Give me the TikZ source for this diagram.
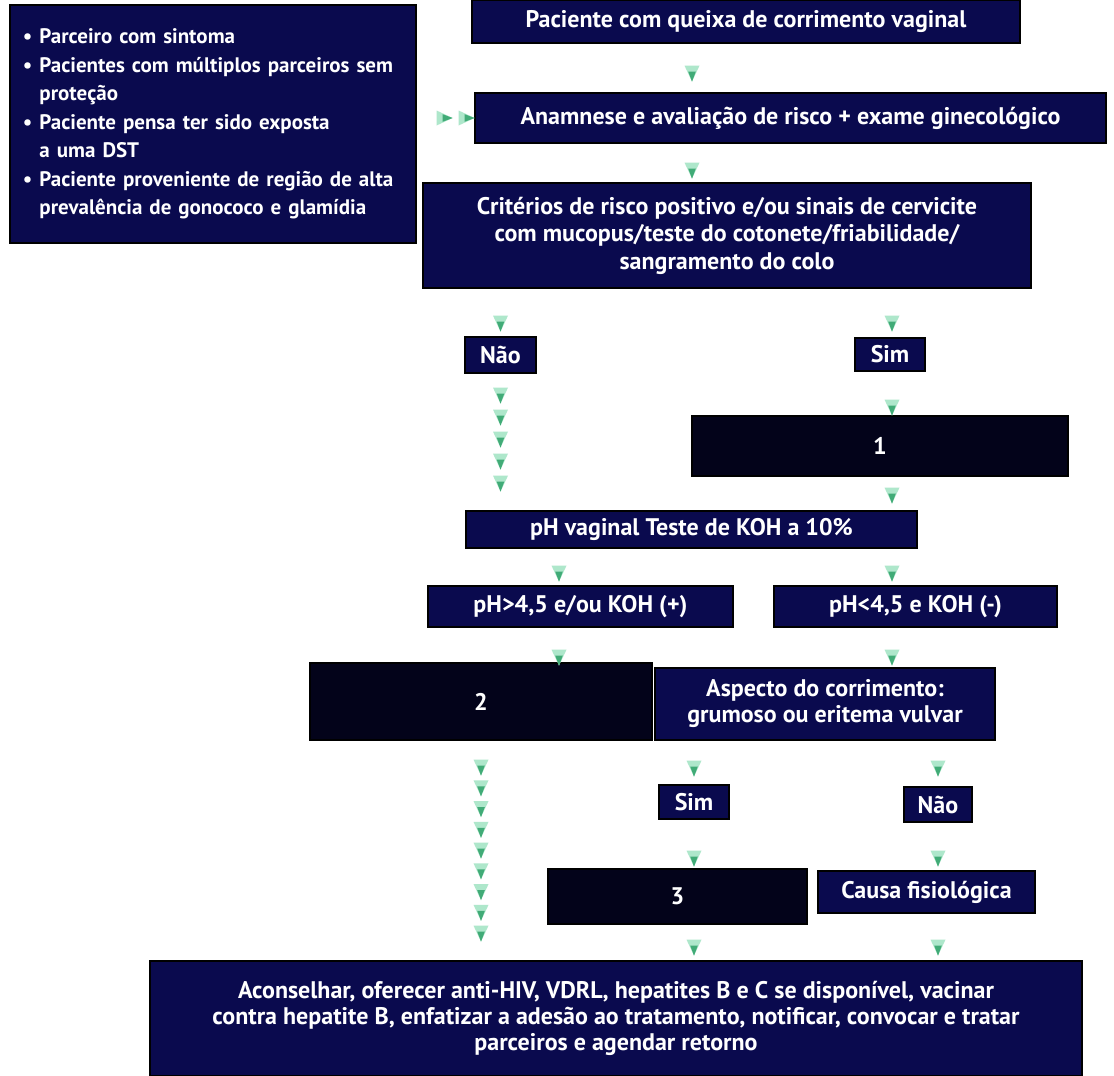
\documentclass[tikz,border=0pt]{standalone}
\usepackage{fontspec}
\setmainfont{PT Sans}
\usetikzlibrary{decorations.markings}
\definecolor{navy}{HTML}{0A0A4E}
\definecolor{ink}{HTML}{03031A}
\definecolor{mint}{HTML}{4CC98C}

% green triangle used along the connectors
\newcommand{\gtri}{%
  \fill[mint!45!white] (-8pt,7.5pt) -- (8pt,0pt) -- (-8pt,-7.5pt) -- cycle;
  \fill[mint!85!black] (-2pt,3.8pt) -- (8pt,0pt) -- (-2pt,-3.8pt) -- cycle;}

\begin{document}
\begin{tikzpicture}[
    x=1pt, y=-1pt,
    every node/.style={font=\bfseries\fontsize{24}{26}\selectfont, text=white, align=center, inner sep=0pt},
    box/.style={draw=black, line width=1.2pt, fill=navy},
    dark/.style={draw=black, line width=1.2pt, fill=ink},
    sz/.style 2 args={minimum width=#1pt, minimum height=#2pt},
    flow/.style={decorate, decoration={markings, mark=at position #1 with {\gtri}}},
    chain/.style={decorate, decoration={markings, mark=between positions #1 with {\gtri}}}
]
\path[fill=white, use as bounding box] (0,0) rectangle (1114,1076);

\coordinate (axisL) at (692,0);
\coordinate (axisR) at (892,0);
\coordinate (axisP) at (559,0);

\node (risk) [box, sz={406}{238}, text width=380pt, align=left,
  font=\bfseries\fontsize{21}{28.5}\selectfont] at (213,124) {%
  \textbullet\ Parceiro com sintoma\\
  \textbullet\ Pacientes com múltiplos parceiros sem\\
  \phantom{\textbullet\ }proteção\\
  \textbullet\ Paciente pensa ter sido exposta\\
  \phantom{\textbullet\ }a uma DST\\
  \textbullet\ Paciente proveniente de região de alta\\
  \phantom{\textbullet\ }prevalência de gonococo e glamídia};
\node (top) [box, sz={548}{43}] at (746,21.5) {Paciente com queixa de corrimento vaginal};
\node (anam) [box, sz={631}{50}] at (790.5,118) {Anamnese e avaliação de risco + exame ginecológico};
\node (crit) [box, sz={608}{105}, font=\bfseries\fontsize{24}{27.5}\selectfont] at (727,235.5)
  {Critérios de risco positivo e/ou sinais de cervicite\\com mucopus/teste do cotonete/friabilidade/\\sangramento do colo};
\node (nao1) [box, sz={71}{36}] at (500.5,355) {Não};
\node (sim1) [box, sz={70}{33}] at (890,354.5) {Sim};
\node (one) [dark, sz={376}{60}] at (880,446) {1};
\node (ph) [box, sz={451}{37}] at (691.5,529.5) {pH vaginal Teste de KOH a 10\%};
\node (phhigh) [box, sz={305}{41}] at (580.5,606.5) {pH>4,5 e/ou KOH (+)};
\node (phlow) [box, sz={283}{41}] at (915.5,606.5) {pH<4,5 e KOH (-)};
\node (two) [dark, sz={342}{77}] at (481,701.5) {2};
\node (asp) [box, sz={340}{72}] at (825,704) {Aspecto do corrimento:\\grumoso ou eritema vulvar};
\node (sim2) [box, sz={70}{34}] at (694,802) {Sim};
\node (nao2) [box, sz={68}{35}] at (938,804.5) {Não};
\node (three) [dark, sz={259}{55}] at (677.5,896.5) {3};
\node (causa) [box, sz={217}{42}] at (926.5,892) {Causa fisiológica};
\node (final) [box, sz={932}{115}] at (616,1018.5)
  {Aconselhar, oferecer anti-HIV, VDRL, hepatites B e C se disponível, vacinar\\contra hepatite B, enfatizar a adesão ao tratamento, notificar, convocar e tratar\\parceiros e agendar retorno};

% connectors
\path[chain={28pt and 51pt step 22pt}] (risk.east |- anam.west) -- (anam.west);
\path[flow=30pt] (top.south -| axisL) -- (anam.north -| axisL);
\path[flow=27pt] (anam.south -| axisL) -- (crit.north -| axisL);
\path[flow=35pt] (crit.south -| nao1) -- (nao1.north);
\path[flow=35pt] (crit.south -| axisR) -- (sim1.north -| axisR);
\path[chain={22pt and 111pt step 22pt}] (nao1.south) -- (ph.north -| nao1);
\path[flow=36pt] (sim1.south -| axisR) -- (one.north -| axisR);
\path[flow=19pt] (one.south -| axisR) -- (ph.north -| axisR);
\path[flow=25pt] (ph.south -| axisP) -- (phhigh.north -| axisP);
\path[flow=25pt] (ph.south -| axisR) -- (phlow.north -| axisR);
\path[flow=30pt] (phhigh.south -| axisP) -- (two.north -| axisP);
\path[flow=30pt] (phlow.south -| axisR) -- (asp.north -| axisR);
\path[chain={27pt and 194pt step 20.75pt}] (two.south) -- (final.north -| two);
\path[flow=28pt] (asp.south -| sim2) -- (sim2.north);
\path[flow=28pt] (asp.south -| nao2) -- (nao2.north);
\path[flow=39pt] (sim2.south) -- (three.north -| sim2);
\path[flow=36pt] (nao2.south) -- (causa.north -| nao2);
\path[flow=23pt] (three.south -| sim2) -- (final.north -| sim2);
\path[flow=34pt] (causa.south -| nao2) -- (final.north -| nao2);
\end{tikzpicture}
\end{document}
